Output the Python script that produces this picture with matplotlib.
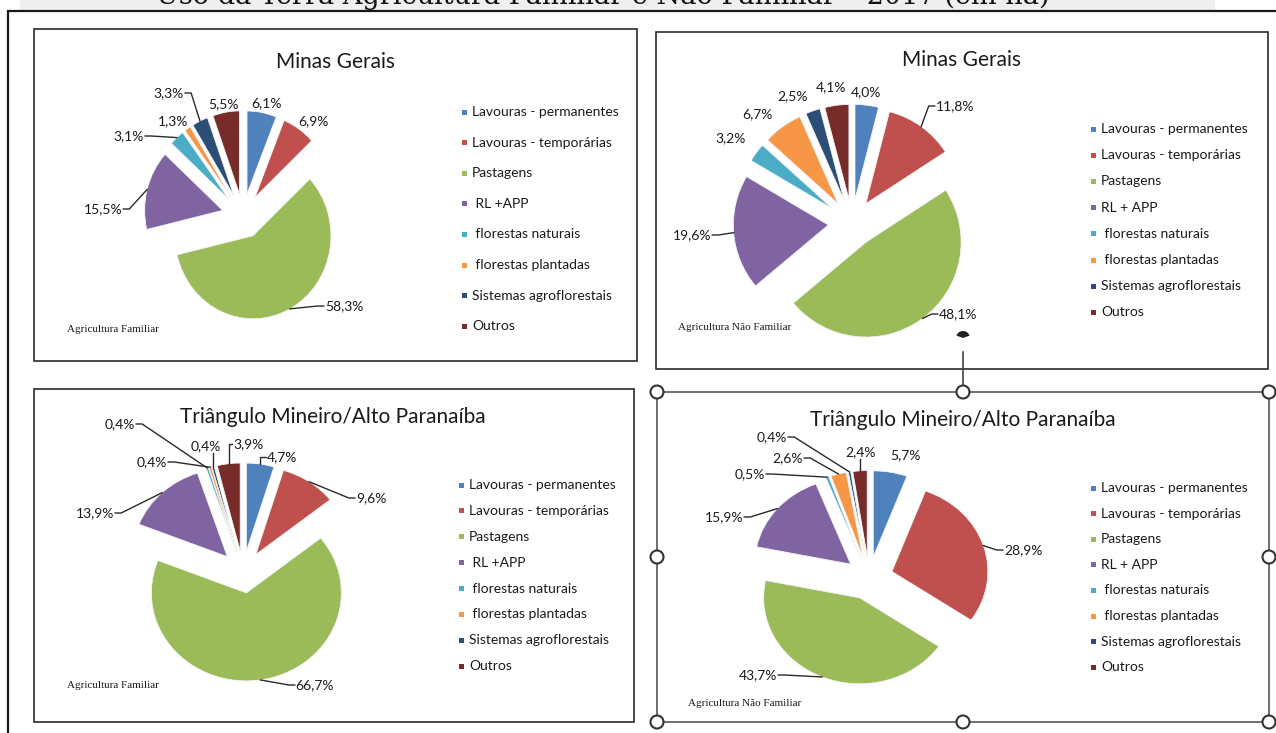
import numpy as np
import matplotlib.pyplot as plt
from matplotlib import patches

W, H = 1276, 733

# categorias de uso da terra (mesma ordem nas quatro pizzas)
usos = ['Lavouras - permanentes', 'Lavouras - temporárias', 'Pastagens', 'RL + APP',
        ' florestas naturais', ' florestas plantadas', 'Sistemas agroflorestais', 'Outros']
cores = ['#4F81BD', '#C0504D', '#9BBB59', '#8064A2',
         '#4BACC6', '#F79646', '#2C4D75', '#772C2A']

# participação (%) de cada uso
mg_familiar = [6.1, 6.9, 58.3, 15.5, 3.1, 1.3, 3.3, 5.5]
mg_nao_familiar = [4.0, 11.8, 48.1, 19.6, 3.2, 6.7, 2.5, 4.1]
tap_familiar = [4.7, 9.6, 66.7, 13.9, 0.4, 0.4, 0.4, 3.9]
tap_nao_familiar = [5.7, 28.9, 43.7, 15.9, 0.5, 2.6, 0.4, 2.4]

titulo_geral = 'Uso da Terra Agricultura Familiar e Não Familiar – 2017 (em ha)'

# layout de cada quadro (pixels): caixa, pizza (cx, cy, rx, ry, explode),
# legenda (x texto, y 1a linha, passo), posição dos rótulos e lado da linha guia
paineis = [
    dict(valores=mg_familiar, titulo='Minas Gerais', nota='Agricultura Familiar',
         rl=' RL +APP', caixa=(34, 29, 637, 361), titulo_xy=(335, 62), nota_xy=(67, 330),
         pizza=(243, 216, 78, 83, 0.27), legenda=(472, 112, 30.6),
         rotulos=[(266, 103, None), (313, 121, None), (344, 306, 'l'), (103, 209, 'r'),
                  (129, 136, 'r'), (173, 121, None), (169, 93, 'r'), (223, 104, None)]),
    dict(valores=mg_nao_familiar, titulo='Minas Gerais', nota='Agricultura Não Familiar',
         rl='RL + APP', caixa=(656, 32, 1268, 369), titulo_xy=(962, 60), nota_xy=(678, 327),
         pizza=(852, 223, 95, 95, 0.25), legenda=(1101, 129, 26.2),
         rotulos=[(866, 92, None), (955, 106, 'l'), (958, 314, 'l'), (692, 235, 'r'),
                  (731, 138, None), (757, 114, None), (793, 96, None), (831, 87, None)]),
    dict(valores=tap_familiar, titulo='Triângulo Mineiro/Alto Paranaíba',
         nota='Agricultura Familiar', rl=' RL +APP', caixa=(34, 389, 634, 722),
         titulo_xy=(333, 417), nota_xy=(67, 686),
         pizza=(243, 572, 95, 88, 0.24), legenda=(469, 485, 25.9),
         rotulos=[(282, 457, 'l'), (371, 498, 'l'), (315, 685, 'l'), (95, 513, 'r'),
                  (120, 424, 'r'), (152, 462, 'r'), (206, 446, 'b'), (248, 444, 'l')]),
    dict(valores=tap_nao_familiar, titulo='Triângulo Mineiro/Alto Paranaíba',
         nota='Agricultura Não Familiar', rl='RL + APP', caixa=(657, 392, 1269, 722),
         titulo_xy=(963, 420), nota_xy=(688, 703),
         pizza=(869, 578, 96, 86, 0.25), legenda=(1101, 488, 25.6),
         rotulos=[(905, 455, None), (1023, 550, 'l'), (758, 675, 'r'), (724, 517, 'r'),
                  (750, 474, 'r'), (788, 458, 'r'), (772, 437, 'r'), (861, 452, 'b')]),
]

fig = plt.figure(figsize=(W / 100, H / 100), dpi=100)
fig.patch.set_facecolor('white')

bg = fig.add_axes([0, 0, 1, 1])
bg.set_xlim(0, W)
bg.set_ylim(H, 0)
bg.axis('off')

# faixa cinza do título e moldura externa
bg.add_patch(patches.Rectangle((20, 0), 1195, 11, color='#efefef', lw=0))
bg.plot([8, 8, W], [H, 11, 11], color='#1a1a1a', lw=1.6, solid_joinstyle='miter')

for i, p in enumerate(paineis):
    x0, y0, x1, y1 = p['caixa']
    cor = '#555555' if i == 3 else '#2a2a2a'
    bg.add_patch(patches.Rectangle((x0, y0), x1 - x0, y1 - y0, fill=False,
                                   edgecolor=cor, lw=1.2))

# marca parcial e conector do quadro selecionado
bg.add_patch(patches.Wedge((963, 338), 7, 200, 340, color='#222222', lw=0))
bg.plot([963, 963], [352, 386], color='#444444', lw=1.2)

# pizzas
pizzas = []
for p in paineis:
    x0, y0, x1, y1 = p['caixa']
    cx, cy, rx, ry, expl = p['pizza']
    ax = fig.add_axes([x0 / W, 1 - y1 / H, (x1 - x0) / W, (y1 - y0) / H])
    fatias, _ = ax.pie(p['valores'], colors=cores, explode=[expl] * len(p['valores']),
                       startangle=90, counterclock=False,
                       wedgeprops=dict(edgecolor='#f4f4f4', linewidth=0.6))
    ax.set_xlim((x0 - cx) / rx, (x1 - cx) / rx)
    ax.set_ylim((cy - y1) / ry, (cy - y0) / ry)
    ax.set_aspect('auto')
    ax.patch.set_visible(False)
    pizzas.append((ax, fatias))

fg = fig.add_axes([0, 0, 1, 1])
fg.set_xlim(0, W)
fg.set_ylim(H, 0)
fg.axis('off')
fg.patch.set_visible(False)

# alças de seleção do quadro inferior direito
bx0, by0, bx1, by1 = paineis[3]['caixa']
bmx, bmy = (bx0 + bx1) / 2, (by0 + by1) / 2
for hx, hy in [(bx0, by0), (bmx, by0), (bx1, by0), (bx0, bmy), (bx1, bmy),
               (bx0, by1), (bmx, by1), (bx1, by1)]:
    fg.add_patch(patches.Circle((hx, hy), 6.5, facecolor='white',
                                edgecolor='#333333', lw=1.5, zorder=5))

renderer = fig.canvas.get_renderer()
txt = dict(family='Lato', color='#1a1a1a')


def ancora(ax, w):
    # ponto médio do arco externo da fatia, em pixels da figura
    m = np.deg2rad((w.theta1 + w.theta2) / 2)
    pt = (w.center[0] + w.r * np.cos(m), w.center[1] + w.r * np.sin(m))
    return fg.transData.inverted().transform(ax.transData.transform(pt))


def linha_guia(t, anc, lado):
    bb = t.get_window_extent(renderer).transformed(fg.transData.inverted())
    ax_, ay_ = anc
    if lado == 'b':
        xs, ys = [ax_, ax_], [bb.ymax + 1, ay_]
    else:
        ex = bb.xmin - 1 if lado == 'l' else bb.xmax + 1
        ey = (bb.ymin + bb.ymax) / 2
        cauda = np.sign(ax_ - ex) * min(6, abs(ax_ - ex))
        xs, ys = [ex, ex + cauda, ax_], [ey, ey, ay_]
    fg.plot(xs, ys, color='#2a2a2a', lw=1.0)


for p, (ax, fatias) in zip(paineis, pizzas):
    fg.text(*p['titulo_xy'], p['titulo'], ha='center', va='center', fontsize=15, **txt)
    fg.text(*p['nota_xy'], p['nota'], ha='left', va='center', fontsize=8,
            family='Liberation Serif', color='#1a1a1a')

    lx, ly, passo = p['legenda']
    nomes = list(usos)
    nomes[3] = p['rl']
    for k, (nome, cor) in enumerate(zip(nomes, cores)):
        yy = ly + k * passo
        fg.add_patch(patches.Rectangle((lx - 10, yy - 2.5), 5, 5, color=cor, lw=0))
        fg.text(lx, yy, nome, ha='left', va='center', fontsize=10, **txt)

    for v, w, (tx, ty, lado) in zip(p['valores'], fatias, p['rotulos']):
        rot = f'{v:.1f}%'.replace('.', ',')
        t = fg.text(tx, ty, rot, ha='center', va='center', fontsize=10, **txt)
        if lado:
            linha_guia(t, ancora(ax, w), lado)

# título geral, cortado pela borda superior
tg = fg.text(603, 4, titulo_geral, ha='center', va='baseline', fontsize=20,
             family='DejaVu Serif', color='#111111')
larg = tg.get_window_extent(renderer).width
tg.set_fontsize(20 * 893 / larg)

fig.savefig('out.png', dpi=100)
